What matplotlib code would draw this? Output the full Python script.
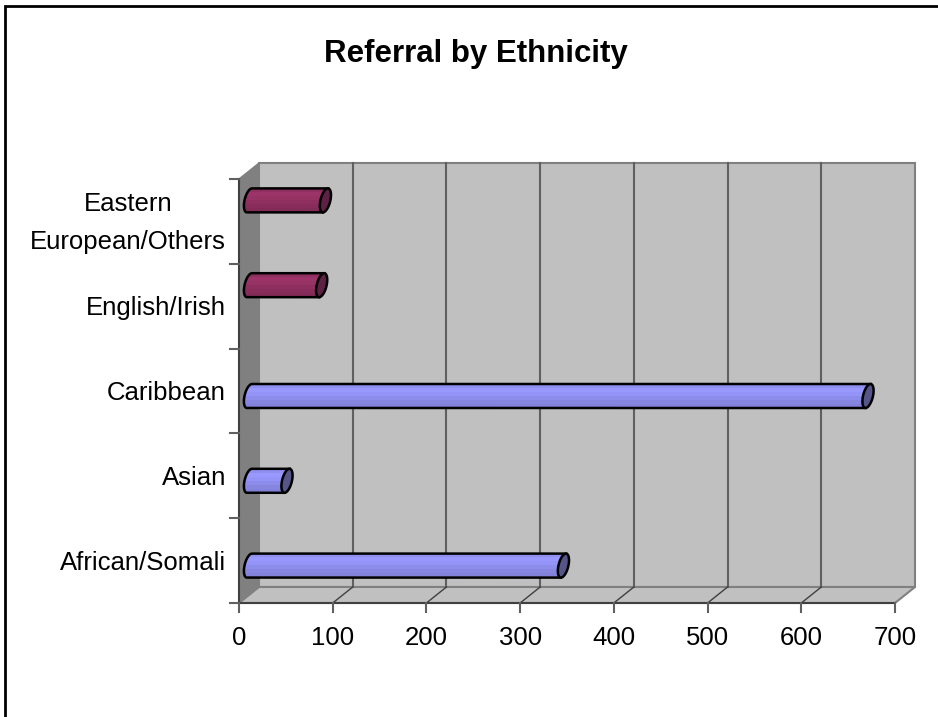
import numpy as np
import matplotlib
matplotlib.use("Agg")
import matplotlib.pyplot as plt
from matplotlib.patches import Polygon, Rectangle

categories = ["African/Somali", "Asian", "Caribbean", "English/Irish", "Eastern\nEuropean/Others"]
values = [335, 40, 660, 77, 81]
bar_groups = ["blue", "blue", "blue", "maroon", "maroon"]
x_ticks = [0, 100, 200, 300, 400, 500, 600, 700]

# light to dark, top of the tube to the bottom
shades = {
    "blue": ["#8f8ff0", "#9898ff", "#9494f8", "#8c8cea", "#8686e0", "#8282da"],
    "maroon": ["#8e2f5f", "#9c3369", "#973265", "#8f2f60", "#882d5b", "#822b57"],
}
cap_colors = {"blue": "#555588", "maroon": "#5c2144"}
# px above the category centre, the two series sit in different slots
group_shift = {"blue": -5, "maroon": 21}

W, H = 938, 717
fig = plt.figure(figsize=(W / 100, H / 100), dpi=100, facecolor="white")
plt.rcParams["font.family"] = ["Liberation Sans", "DejaVu Sans"]

# the axes is the front plane of the fake 3d box
left, right, bottom, top = 239, 895, 603, 179
ax = fig.add_axes([left / W, 1 - bottom / H, (right - left) / W, (bottom - top) / H])
ax.set_xlim(0, 700)
ax.set_ylim(0, 5)
ax.axis("off")

px_x = 700 / (right - left)
px_y = 5 / (bottom - top)
depth_x, depth_y = 20 * px_x, 16 * px_y

# back wall, side wall, floor
ax.add_patch(Polygon([(depth_x, depth_y), (700 + depth_x, depth_y), (700 + depth_x, 5 + depth_y), (depth_x, 5 + depth_y)],
                     closed=True, fc="#c0c0c0", ec="#808080", lw=1.5, clip_on=False, zorder=1))
ax.add_patch(Polygon([(0, 0), (depth_x, depth_y), (depth_x, 5 + depth_y), (0, 5)],
                     closed=True, fc="#808080", ec="#808080", lw=1, clip_on=False, zorder=2))
ax.add_patch(Polygon([(0, 0), (700, 0), (700 + depth_x, depth_y), (depth_x, depth_y)],
                     closed=True, fc="#c0c0c0", ec="#808080", lw=1.5, clip_on=False, zorder=2))

# gridlines on the wall and running down the floor
for t in x_ticks[1:-1]:
    ax.plot([t + depth_x, t + depth_x], [depth_y, 5 + depth_y], color="#606060", lw=1.5, clip_on=False, zorder=3)
    ax.plot([t, t + depth_x], [0, depth_y], color="#404040", lw=1, clip_on=False, zorder=3)

# axis lines and ticks
ax.plot([0, 700], [0, 0], color="#404040", lw=1.5, clip_on=False, zorder=4)
ax.plot([0, 0], [0, 5], color="#404040", lw=1.5, clip_on=False, zorder=4)
for t in x_ticks:
    ax.plot([t, t], [0, -9 * px_y], color="#606060", lw=1.5, clip_on=False, zorder=4)
    ax.text(t, -35 * px_y, str(t), ha="center", va="center", fontsize=18.5, color="black", clip_on=False)
for i in range(6):
    ax.plot([0, -9 * px_x], [i, i], color="#606060", lw=1.5, clip_on=False, zorder=4)

# bars as little tubes
rad_x, shear, half_h = 5 * px_x, 2.5 * px_x, 12 * px_y
theta = np.linspace(0, 2 * np.pi, 60)
x0 = 10.5 * px_x
for i, (val, group) in enumerate(zip(values, bar_groups)):
    yc = i + 0.5 + group_shift[group] * px_y
    sin_t, cos_t = np.sin(theta), np.cos(theta)
    # left half of the start ellipse, then top and bottom edges to the far end
    half = theta[15:46]
    start = np.column_stack([x0 + rad_x * np.cos(half) + shear * np.sin(half), yc + half_h * np.sin(half)])
    body = np.vstack([[[x0 + val + shear, yc + half_h]], start, [[x0 + val - shear, yc - half_h]]])
    outline = Polygon(body, closed=True, fc="none", ec="black", lw=1.8, clip_on=False, zorder=7)
    ax.add_patch(outline)
    band_h = 2 * half_h / len(shades[group])
    for j, col in enumerate(shades[group]):
        band = Rectangle((0, yc + half_h - (j + 1) * band_h), x0 + val + shear + rad_x, band_h + 0.002,
                         fc=col, ec="none", clip_on=True, zorder=6)
        ax.add_patch(band)
        band.set_clip_path(outline)
    cap = np.column_stack([x0 + val + rad_x * cos_t + shear * sin_t, yc + half_h * sin_t])
    ax.add_patch(Polygon(cap, closed=True, fc=cap_colors[group], ec="black", lw=1.8, clip_on=False, zorder=8))

# category labels, the two line one is centred on itself
label_y = [563, 478, 393, 308, 223]
for name, ly in zip(categories, label_y):
    yy = (bottom - ly) * px_y
    if "\n" in name:
        ax.text(-111 * px_x, yy, name, ha="center", va="center", fontsize=18.5, color="black",
                clip_on=False, linespacing=1.7, multialignment="center")
    else:
        ax.text(-13 * px_x, yy, name, ha="right", va="center", fontsize=18.5, color="black", clip_on=False)

fig.text(476 / W, 1 - 54 / H, "Referral by Ethnicity", ha="center", va="center", fontsize=22.5, fontweight="bold", color="black")

# chart frame, bottom and right run off the picture
fig.add_artist(Rectangle((5 / W, -0.02), 1.02, 1.02 - 6 / H, transform=fig.transFigure,
                         fc="none", ec="black", lw=2))

fig.savefig("out.png", dpi=100)
